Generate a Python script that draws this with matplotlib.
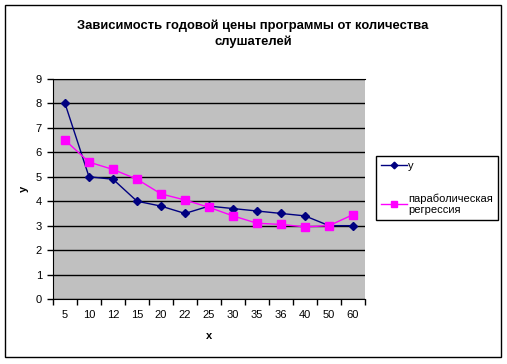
import matplotlib
matplotlib.use("Agg")
import matplotlib.pyplot as plt
from matplotlib.patches import Rectangle

plt.rcParams['font.family'] = ['Liberation Sans', 'DejaVu Sans']

categories = ['5', '10', '12', '15', '20', '22', '25', '30', '35', '36', '40', '50', '60']
y_values = [8, 5, 4.9, 4, 3.8, 3.5, 3.8, 3.7, 3.6, 3.5, 3.4, 3.0, 3.0]
parab_values = [6.5, 5.6, 5.3, 4.9, 4.3, 4.05, 3.75, 3.4, 3.1, 3.05, 2.95, 3.0, 3.45]
y_ticks = list(range(0, 10))

W, H = 507, 364
fig = plt.figure(figsize=(W / 100, H / 100), dpi=100)
fig.patch.set_facecolor('white')
# outer border
fig.patches.append(Rectangle((5 / W, 1 - 357 / H), 496 / W, 352 / H, transform=fig.transFigure,
                             fill=False, edgecolor='black', linewidth=1.0))

ax = fig.add_axes([53 / W, 1 - 299 / H, 312 / W, 220 / H])
ax.set_facecolor('#C0C0C0')
x = list(range(len(categories)))
ax.plot(x, y_values, color='#000080', marker='D', markersize=4.5, linewidth=1.0, label='y', zorder=3)
ax.plot(x, parab_values, color='#FF00FF', marker='s', markersize=6, linewidth=1.0,
        label='параболическая\nрегрессия', zorder=3)

ax.set_xlim(-0.5, len(categories) - 0.5)
ax.set_ylim(0, 9)
ax.set_yticks(y_ticks)
ax.set_yticklabels([str(v) for v in y_ticks], fontsize=8)
ax.set_xticks(x)
ax.set_xticklabels(categories, fontsize=8)
ax.tick_params(axis='x', which='major', length=0, pad=8)
ax.set_xticks([i - 0.5 for i in range(len(categories) + 1)], minor=True)
ax.tick_params(axis='x', which='minor', length=4, direction='out', width=1)
ax.tick_params(axis='y', length=4, direction='out', width=1, pad=4)
ax.yaxis.grid(True, color='black', linewidth=1.0)
ax.set_axisbelow(True)
ax.spines['right'].set_visible(False)
for s in ['top', 'left', 'bottom']:
    ax.spines[s].set_color('black')

ax.set_xlabel('x', fontsize=8, fontweight='bold', labelpad=8)
ax.set_ylabel('y', fontsize=8, fontweight='bold', labelpad=5)

fig.text(253 / W, 1 - 34 / H, 'Зависимость годовой цены программы от количества\nслушателей',
         ha='center', va='center', fontsize=9.4, fontweight='bold', linespacing=1.35)

leg = fig.legend(loc='upper left', bbox_to_anchor=(376 / W, 1 - 156 / H), fontsize=8,
                 frameon=True, fancybox=False, edgecolor='black', framealpha=1,
                 handlelength=2.3, labelspacing=2.0, borderpad=0.45, handletextpad=0.15,
                 borderaxespad=0, markerscale=0.75)
leg.get_frame().set_linewidth(1.0)

fig.savefig('out.png', dpi=100)
